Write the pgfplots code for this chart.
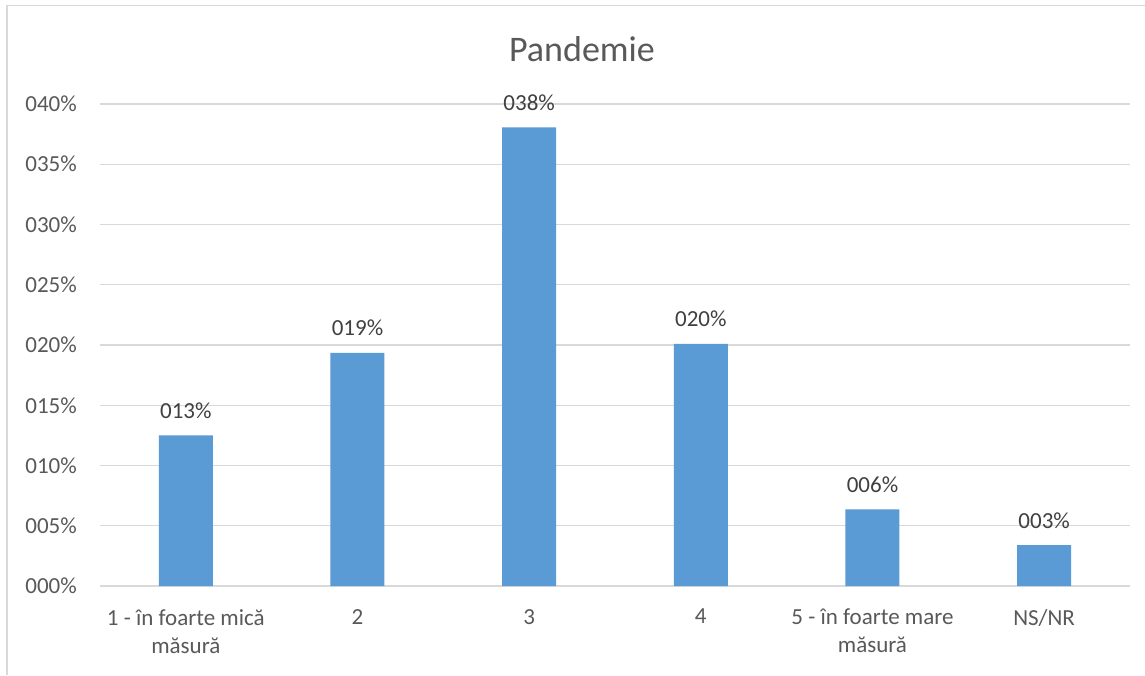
\documentclass[border=0pt]{standalone}
\usepackage{pgfplots}
\pgfplotsset{compat=1.18}
\usepackage{fontspec}
\setmainfont{Carlito}
\definecolor{barblue}{HTML}{5B9BD5}
\definecolor{gridgray}{HTML}{D9D9D9}
\definecolor{txtgray}{HTML}{595959}
\definecolor{lblgray}{HTML}{404040}
\begin{document}
\begin{tikzpicture}[x=1pt,y=1pt]
\useasboundingbox (0,0) rectangle (1145,675);
\fill[white] (0,0) rectangle (1145,675);
\draw[gridgray,line width=1.5pt] (7,0) -- (7,669.5) -- (1145,669.5);
\node[anchor=base,text=txtgray,font=\fontsize{36}{40}\selectfont] at (582,613) {Pandemie};
\begin{axis}[
  at={(100pt,89pt)}, anchor=south west,
  scale only axis, width=1030pt, height=482pt,
  xmin=-0.5, xmax=5.5, ymin=0, ymax=40,
  axis line style={draw=none},
  major tick length=0pt,
  ytick={0,5,10,15,20,25,30,35,40},
  yticklabels={000\%,005\%,010\%,015\%,020\%,025\%,030\%,035\%,040\%},
  xtick={0,1,2,3,4,5},
  xticklabels={{1 - în foarte mică\\măsură},2,3,4,{5 - în foarte mare\\măsură},NS/NR},
  ymajorgrids,
  major grid style={gridgray,line width=1.3pt},
  yticklabel style={anchor=east,inner sep=0pt,xshift=-23pt,text=txtgray,font=\fontsize{23}{28}\selectfont},
  xticklabel style={anchor=north,inner sep=0pt,yshift=-23pt,align=center,text=txtgray,font=\fontsize{23}{28}\selectfont},
  clip=false,
]
\addplot[ybar, bar width=54pt, fill=barblue, draw=none,
  point meta=explicit symbolic,
  nodes near coords,
  every node near coord/.append style={anchor=base,inner sep=0pt,yshift=17pt,text=lblgray,font=\fontsize{23}{28}\selectfont},
] coordinates {
  (0,12.5) [013\%]
  (1,19.35) [019\%]
  (2,38.05) [038\%]
  (3,20.1) [020\%]
  (4,6.35) [006\%]
  (5,3.4) [003\%]
};
\end{axis}
\end{tikzpicture}
\end{document}
